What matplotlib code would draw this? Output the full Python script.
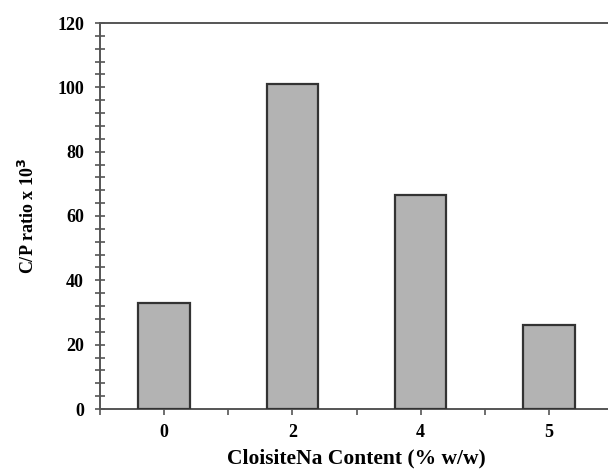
import numpy as np
import matplotlib.pyplot as plt
from matplotlib.ticker import MultipleLocator

# C/P ratio versus clay loading
content = ['0', '2', '4', '5']
cp_ratio = [33, 101, 66.4, 26]

plt.rcParams['font.family'] = ['Liberation Serif', 'DejaVu Serif']
plt.rcParams['font.weight'] = 'bold'

fig = plt.figure(figsize=(6.08, 4.70), dpi=100)
ax = fig.add_axes([100 / 608, 1 - 409 / 470, 513 / 608, 386 / 470])

x = np.arange(len(content))
ax.bar(x, cp_ratio, width=0.4, color='#b3b3b3', edgecolor='#333333', linewidth=1.6, zorder=3)

ax.set_xlim(-0.5, 3.5)
ax.set_ylim(0, 120)
ax.set_xticks(x)
ax.set_xticklabels(content)
ax.xaxis.set_minor_locator(MultipleLocator(0.5))
ax.yaxis.set_major_locator(MultipleLocator(20))
ax.yaxis.set_minor_locator(MultipleLocator(4))

ax.spines['right'].set_visible(False)
for s in ['left', 'bottom', 'top']:
    ax.spines[s].set_color('#555555')
    ax.spines[s].set_linewidth(1.4)

ax.tick_params(axis='y', which='both', direction='inout', length=7, width=1.2,
               color='#555555', labelsize=13, pad=8)
ax.tick_params(axis='x', which='both', direction='out', length=4, width=1.2,
               color='#555555', labelsize=13, pad=7)

ax.set_xlabel('CloisiteNa Content (% w/w)', fontsize=15.5, fontweight='bold', labelpad=5)
ax.set_ylabel('C/P ratio x 10$^\\mathbf{3}$', fontsize=13, fontweight='bold', labelpad=14)

fig.savefig('out.png', dpi=100)
